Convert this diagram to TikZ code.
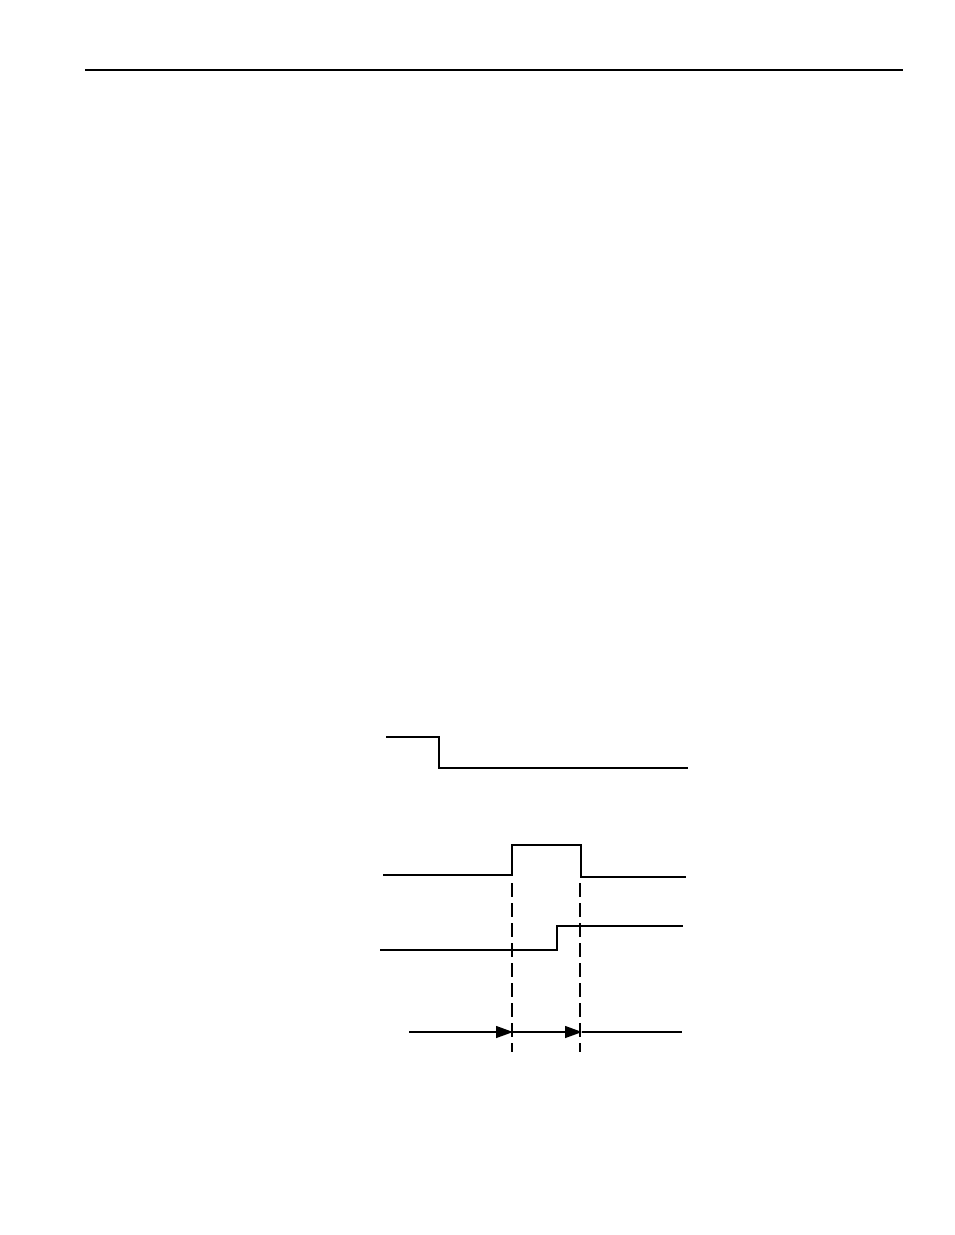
\documentclass[tikz,border=0pt]{standalone}
\usetikzlibrary{arrows.meta}
\begin{document}
\begin{tikzpicture}[x=1pt,y=-1pt,
  sig/.style={line width=1.3pt},
  guide/.style={line width=1.2pt,dash pattern=on 14pt off 6pt},
  tip/.style={line width=1.3pt,-{Triangle[length=17pt,width=12pt]}},
  rule/.style={line width=2.6pt}]
\useasboundingbox (0,0) rectangle (954,1235);
% header rule
\coordinate (hl) at (85,70);
\coordinate (hr) at (903,70);
\draw[rule] (hl) -- (hr);
% signal 1
\coordinate (a0) at (386,737);
\coordinate (a1) at (439,737);
\coordinate (a2) at (439,768);
\coordinate (a3) at (688,768);
\draw[sig] (a0) -- (a1) -- (a2) -- (a3);
% signal 2
\coordinate (b0) at (383,875);
\coordinate (b1) at (512,875);
\coordinate (b2) at (512,845);
\coordinate (b3) at (581,845);
\coordinate (b4) at (581,877);
\coordinate (b5) at (686,877);
\draw[sig] (b0) -- (b1) -- (b2) -- (b3) -- (b4) -- (b5);
% signal 3
\coordinate (c0) at (380,950);
\coordinate (c1) at (557,950);
\coordinate (c2) at (557,926);
\coordinate (c3) at (683,926);
\draw[sig] (c0) -- (c1) -- (c2) -- (c3);
% dashed guides
\coordinate (d1t) at (512,883);
\coordinate (d1b) at (512,1052);
\coordinate (d2t) at (580,883);
\coordinate (d2b) at (580,1052);
\draw[guide] (d1t) -- (d1b);
\draw[guide] (d2t) -- (d2b);
% arrow line
\coordinate (e0) at (409,1032);
\coordinate (e1) at (513,1032);
\coordinate (e2) at (582,1032);
\coordinate (e3) at (682,1032);
\draw[tip] (e0) -- (e1);
\draw[tip] (e1) -- (e2);
\draw[sig] (e2) -- (e3);
\end{tikzpicture}
\end{document}
